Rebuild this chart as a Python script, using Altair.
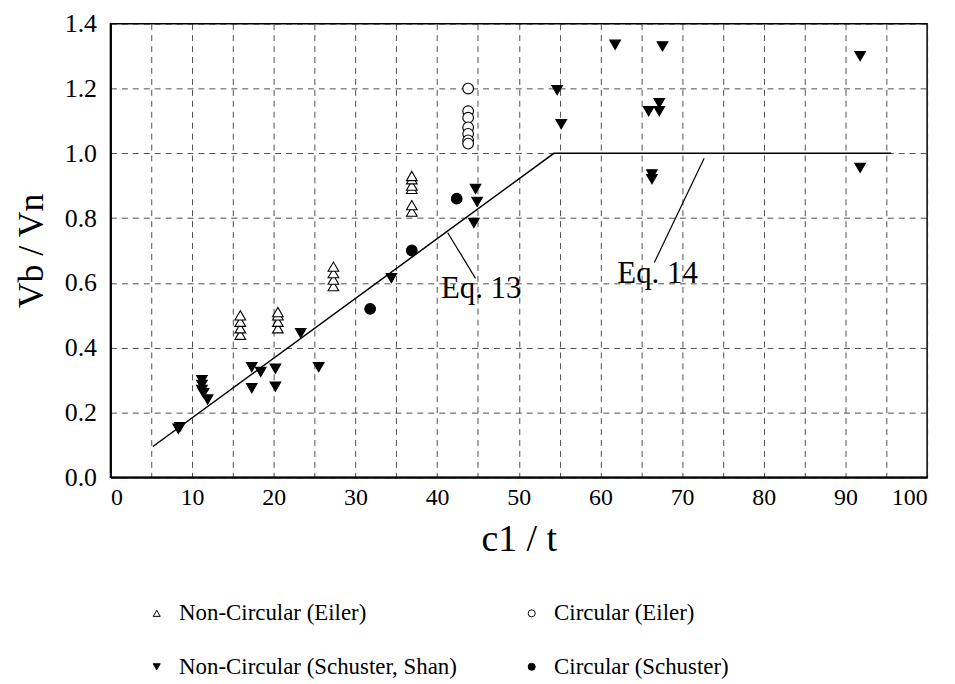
import altair as alt
import pandas as pd

SERIES = ["Non-Circular (Eiler)", "Circular (Eiler)",
          "Non-Circular (Schuster, Shan)", "Circular (Schuster)"]

nce_x = [15.9, 15.9, 15.9, 15.9, 20.5, 20.5, 20.5, 20.5,
         27.3, 27.3, 27.3, 27.3, 36.9, 36.9, 36.9, 36.9, 36.9, 36.9]
nce_y = [0.44, 0.46, 0.48, 0.50, 0.46, 0.48, 0.50, 0.51,
         0.59, 0.61, 0.63, 0.65, 0.82, 0.84, 0.89, 0.90, 0.92, 0.93]

ce_x = [43.8, 43.8, 43.8, 43.8, 43.8, 43.8, 43.8]
ce_y = [1.20, 1.13, 1.11, 1.08, 1.06, 1.04, 1.03]

ncs_x = [8.3, 8.5, 11.2, 11.2, 11.2, 11.4, 11.9, 17.3, 18.4, 17.3, 20.2, 20.2,
         23.3, 25.5, 34.4, 44.7, 44.9, 44.5, 54.7, 55.2, 61.8, 67.6, 65.9,
         67.2, 67.2, 66.3, 66.3, 91.8, 91.8]
ncs_y = [0.15, 0.155, 0.30, 0.285, 0.27, 0.26, 0.24, 0.34, 0.325, 0.275, 0.335,
         0.28, 0.445, 0.34, 0.615, 0.89, 0.85, 0.785, 1.195, 1.09, 1.335, 1.33,
         1.13, 1.155, 1.13, 0.935, 0.92, 1.30, 0.955]

cs_x = [31.8, 36.9, 42.4]
cs_y = [0.52, 0.70, 0.86]

eq_x = [5.2, 54.3, 95.6]
eq_y = [0.095, 1.0, 1.0]

labels_text = ["Eq. 13", "Eq. 14"]
labels_x = [45.4, 67.0]
labels_y = [0.552, 0.601]

lead13_x = [41.3, 44.7]
lead13_y = [0.755, 0.614]
lead14_x = [72.7, 66.6]
lead14_y = [0.985, 0.663]

FONT = "Liberation Serif"

rows = []
for s, xs, ys in [(SERIES[0], nce_x, nce_y), (SERIES[1], ce_x, ce_y),
                  (SERIES[2], ncs_x, ncs_y), (SERIES[3], cs_x, cs_y)]:
    for a, b in zip(xs, ys):
        rows.append({"x": a, "y": b, "series": s})
pts = pd.DataFrame(rows)

xscale = alt.Scale(domain=[0, 100], nice=False, zero=False)
yscale = alt.Scale(domain=[0, 1.4], nice=False, zero=False)

xaxis = alt.Axis(
    title="c1 / t", values=list(range(0, 101, 5)),
    labelExpr="datum.value % 10 == 0 ? format(datum.value, 'd') : ''",
    grid=True, ticks=False, labelPadding=8, titlePadding=12, labelFontSize=24,
    titleFontSize=38,
)
yaxis = alt.Axis(
    title="Vb / Vn", values=[round(i * 0.1, 1) for i in range(0, 15)],
    labelExpr="round(datum.value*10) % 2 == 0 ? format(datum.value, '.1f') : ''",
    grid=True, ticks=False, labelPadding=14, titlePadding=14, labelFontSize=26,
    titleFontSize=36,
)

leg = alt.Legend(title=None, orient="none", legendX=35, legendY=581,
                 direction="horizontal",
                 columns=2, columnPadding=63, rowPadding=30,
                 labelFont=FONT, labelFontSize=23, labelColor="black",
                 symbolSize=50, symbolStrokeWidth=1, labelOffset=11,
                 padding=0, symbolStrokeColor="black", labelLimit=500)

points = alt.Chart(pts).mark_point(strokeWidth=1.1, opacity=1, size=115).encode(
    x=alt.X("x:Q", scale=xscale, axis=xaxis),
    y=alt.Y("y:Q", scale=yscale, axis=yaxis),
    shape=alt.Shape("series:N", sort=SERIES, scale=alt.Scale(
        domain=SERIES, range=["triangle-up", "circle", "triangle-down", "circle"]),
        legend=leg),
    fill=alt.Fill("series:N", sort=SERIES, scale=alt.Scale(
        domain=SERIES, range=["white", "white", "black", "black"]), legend=leg),
    stroke=alt.Stroke("series:N", sort=SERIES, scale=alt.Scale(
        domain=SERIES, range=["black", "black", "black", "black"]), legend=leg),
)

eq = pd.DataFrame({"x": eq_x, "y": eq_y})
eqline = alt.Chart(eq).mark_line(color="black", strokeWidth=1.5).encode(
    x=alt.X("x:Q", scale=xscale), y=alt.Y("y:Q", scale=yscale))

l13 = alt.Chart(pd.DataFrame({"x": lead13_x, "y": lead13_y})).mark_line(
    color="black", strokeWidth=1.2).encode(
    x=alt.X("x:Q", scale=xscale), y=alt.Y("y:Q", scale=yscale))
l14 = alt.Chart(pd.DataFrame({"x": lead14_x, "y": lead14_y})).mark_line(
    color="black", strokeWidth=1.2).encode(
    x=alt.X("x:Q", scale=xscale), y=alt.Y("y:Q", scale=yscale))

txt = alt.Chart(pd.DataFrame({"t": labels_text, "x": labels_x, "y": labels_y})).mark_text(
    font=FONT, fontSize=31, color="black", baseline="alphabetic", align="center").encode(
    x=alt.X("x:Q", scale=xscale), y=alt.Y("y:Q", scale=yscale), text="t:N")

chart = alt.layer(eqline, l13, l14, points, txt).properties(
    width=821, height=456,
    autosize=alt.AutoSizeParams(type="none"),
    padding={"left": 103, "top": 14, "right": 20, "bottom": 205},
    background="white",
).configure_view(stroke="black", strokeWidth=1.5).configure_axis(
    labelFont=FONT, titleFont=FONT,
    titleFontWeight="normal", labelColor="black", titleColor="black",
    domainColor="black", domainWidth=2, gridColor="#222", gridDash=[6, 5],
    gridWidth=0.8, gridOpacity=1,
)

chart.save("out.html", embed_options={"renderer": "svg", "actions": False})
